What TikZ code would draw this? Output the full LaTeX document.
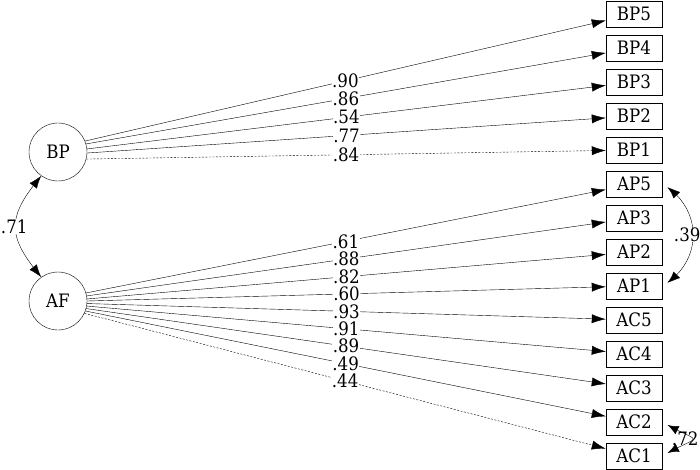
\documentclass[tikz,border=0pt]{standalone}
\usepackage{fontspec}
\setmainfont{DejaVu Serif}[FakeStretch=0.9]
\usepackage{tikz}
\usetikzlibrary{arrows.meta,bending}
\pgfdeclarelayer{edgelayer}
\pgfdeclarelayer{nodelayer}
\pgfsetlayers{edgelayer,nodelayer,main}
\tikzstyle{latent}=[shape=circle,draw=black,minimum size=58pt,inner sep=0pt]
\tikzstyle{obs}=[shape=rectangle,draw=black,minimum width=56pt,minimum height=26pt,inner sep=0pt]
\tikzstyle{load}=[fill=white,inner sep=0.5pt]
\tikzstyle{diredge}=[-{Latex[length=14pt,width=9pt]}]
\tikzstyle{bidir}=[{Latex[length=13pt,width=9pt,bend]}-{Latex[length=13pt,width=9pt,bend]}]
\tikzstyle{fixed}=[dash pattern=on 2pt off 1.5pt]

\begin{document}
\begin{tikzpicture}[x=1pt,y=1pt,line width=0.9pt,font=\fontsize{18.5}{22}\selectfont]
	\useasboundingbox (0, 0) rectangle (700, -470);
	\begin{pgfonlayer}{nodelayer}
		\node [style=latent] (bp) at (58, -152) {BP};
		\node [style=latent] (af) at (58, -301) {AF};
		\node [style=obs] (bp5) at (634, -14) {BP5};
		\node [style=obs] (bp4) at (634, -48) {BP4};
		\node [style=obs] (bp3) at (634, -82) {BP3};
		\node [style=obs] (bp2) at (634, -116) {BP2};
		\node [style=obs] (bp1) at (634, -150) {BP1};
		\node [style=obs] (ap5) at (634, -184) {AP5};
		\node [style=obs] (ap3) at (634, -218) {AP3};
		\node [style=obs] (ap2) at (634, -252) {AP2};
		\node [style=obs] (ap1) at (634, -286) {AP1};
		\node [style=obs] (ac5) at (634, -320) {AC5};
		\node [style=obs] (ac4) at (634, -354) {AC4};
		\node [style=obs] (ac3) at (634, -388) {AC3};
		\node [style=obs] (ac2) at (634, -422) {AC2};
		\node [style=obs] (ac1) at (634, -456) {AC1};
	\end{pgfonlayer}
	\begin{pgfonlayer}{edgelayer}
		\draw [style=diredge] (bp.22) to node[style=load] {.90} (bp5);
		\draw [style=diredge] (bp.16) to node[style=load] {.86} (bp4);
		\draw [style=diredge] (bp.6) to node[style=load] {.54} (bp3);
		\draw [style=diredge] (bp.-2) to node[style=load] {.77} (bp2);
		\draw [style=diredge, fixed] (bp.-14) to node[style=load] {.84} (bp1);
		\draw [style=diredge] (af.16) to node[style=load] {.61} (ap5);
		\draw [style=diredge] (af.10) to node[style=load] {.88} (ap3);
		\draw [style=diredge] (af.4) to node[style=load] {.82} (ap2);
		\draw [style=diredge] (af.0) to node[style=load] {.60} (ap1);
		\draw [style=diredge] (af.-5) to node[style=load] {.93} (ac5);
		\draw [style=diredge] (af.-10) to node[style=load] {.91} (ac4);
		\draw [style=diredge] (af.-15) to node[style=load] {.89} (ac3);
		\draw [style=diredge] (af.-20) to node[style=load] {.49} (ac2);
		\draw [style=diredge, fixed] (af.-25) to node[style=load] {.44} (ac1);
		\draw [style=bidir, out=-130, in=130, looseness=1.37] (bp.235) to node[style=load, xshift=-1pt] {.71} (af.125);
		\draw [style=bidir, shorten <=6pt, shorten >=6pt, out=-30, in=30, looseness=1.2] (ap5.east) to node[style=load, xshift=-6pt] {.39} (ap1.east);
		\draw [style=bidir, shorten <=6pt, shorten >=6pt, out=-30, in=30, looseness=3.6] (ac2.east) to node[xshift=-8pt, inner sep=0pt] {.72} (ac1.east);
	\end{pgfonlayer}
\end{tikzpicture}
\end{document}
